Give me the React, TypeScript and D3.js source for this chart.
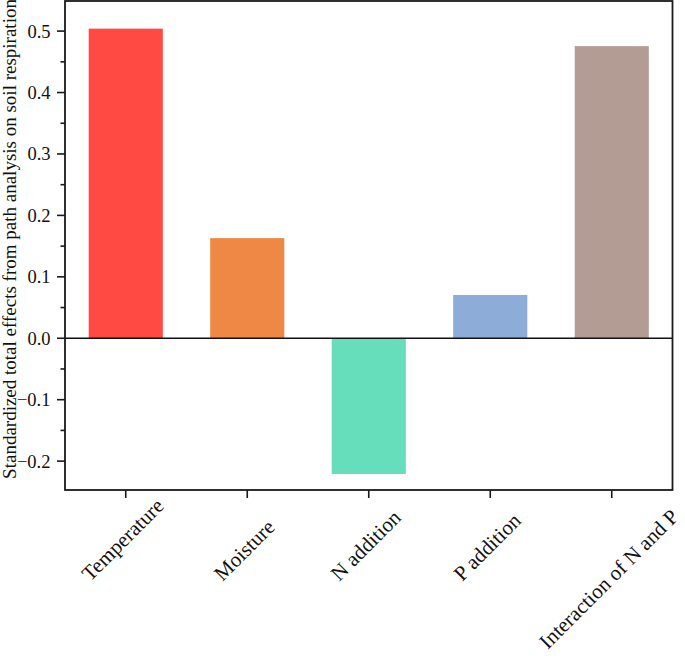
import React, { useEffect, useRef } from "react";
import * as d3 from "d3";

const categories = ["Temperature", "Moisture", "N addition", "P addition", "Interaction of N and P"];
const values = [0.504, 0.163, -0.221, 0.0705, 0.4755];
const barColors = ["#FF4A44", "#EE8844", "#66DDBB", "#8DADD8", "#B39C94"];
const yTicks = [-0.2, -0.1, 0.0, 0.1, 0.2, 0.3, 0.4, 0.5];
const yMinorTicks = [-0.25, -0.15, -0.05, 0.05, 0.15, 0.25, 0.35, 0.45, 0.55];
const yTitle = "Standardized total effects from path analysis on soil respiration";

const W = 685;
const H = 658;
const left = 65;
const right = 672.5;
const top = 1;
const bottom = 490;
const FONT = "Liberation Serif";

export default function App() {
  const ref = useRef<SVGSVGElement>(null);

  useEffect(() => {
    const svg = d3.select(ref.current);
    svg.selectAll("*").remove();

    const x = d3.scaleBand<string>().domain(categories).range([left, right]).paddingInner(0.39).paddingOuter(0.195);
    const y = d3.scaleLinear().domain([-0.247, 0.549]).range([bottom, top]);

    svg.append("rect").attr("width", W).attr("height", H).attr("fill", "#fff");

    svg.selectAll("rect.bar")
      .data(categories)
      .join("rect")
      .attr("class", "bar")
      .attr("x", (d) => x(d)!)
      .attr("width", x.bandwidth())
      .attr("y", (d, i) => y(Math.max(0, values[i])))
      .attr("height", (d, i) => Math.abs(y(values[i]) - y(0)))
      .attr("fill", (d, i) => barColors[i]);

    svg.append("line")
      .attr("x1", left).attr("x2", right)
      .attr("y1", y(0)).attr("y2", y(0))
      .attr("stroke", "#111").attr("stroke-width", 1.6);

    svg.append("rect")
      .attr("x", left).attr("y", top)
      .attr("width", right - left).attr("height", bottom - top)
      .attr("fill", "none").attr("stroke", "#1a1a1a").attr("stroke-width", 1.8);

    const gy = svg.append("g");
    gy.selectAll("line.maj").data(yTicks).join("line")
      .attr("x1", left - 8).attr("x2", left)
      .attr("y1", (d) => y(d)).attr("y2", (d) => y(d))
      .attr("stroke", "#1a1a1a").attr("stroke-width", 1.6);
    gy.selectAll("line.min").data(yMinorTicks.filter((d) => y(d) >= top && y(d) <= bottom)).join("line")
      .attr("x1", left - 4.5).attr("x2", left)
      .attr("y1", (d) => y(d)).attr("y2", (d) => y(d))
      .attr("stroke", "#1a1a1a").attr("stroke-width", 1.6);
    gy.selectAll("text").data(yTicks).join("text")
      .attr("x", 50.5).attr("y", (d) => y(d))
      .attr("dy", "0.35em")
      .attr("text-anchor", "end")
      .attr("font-family", FONT).attr("font-size", 18.5).attr("fill", "#111")
      .text((d) => d3.format(".1f")(d));

    svg.append("text")
      .attr("transform", `translate(16, ${239}) rotate(-90)`)
      .attr("text-anchor", "middle")
      .attr("font-family", FONT).attr("font-size", 19).attr("fill", "#111")
      .text(yTitle);

    const gx = svg.append("g");
    gx.selectAll("line").data(categories).join("line")
      .attr("x1", (d) => x(d)! + x.bandwidth() / 2).attr("x2", (d) => x(d)! + x.bandwidth() / 2)
      .attr("y1", bottom).attr("y2", bottom + 8)
      .attr("stroke", "#1a1a1a").attr("stroke-width", 1.6);

    const s = Math.SQRT1_2;
    const labels = gx.selectAll("text").data(categories).join("text")
      .attr("text-anchor", "middle")
      .attr("font-family", FONT).attr("font-size", 21).attr("fill", "#111")
      .text((d) => d);
    labels.each(function (d) {
      const el = this as SVGTextElement;
      const w = el.getComputedTextLength();
      const cx = x(d)! + x.bandwidth() / 2 + 2;
      let startY = 582;
      if (startY - w * s < bottom + 12) startY = bottom + 28 + w * s;
      const cy = startY - (w / 2) * s;
      d3.select(el).attr("transform", `translate(${cx}, ${cy}) rotate(-45)`);
    });
  }, []);

  return (
    <svg
      ref={ref}
      width={W}
      height={H}
      style={{ position: "absolute", left: 0, top: 0, display: "block" }}
    />
  );
}
